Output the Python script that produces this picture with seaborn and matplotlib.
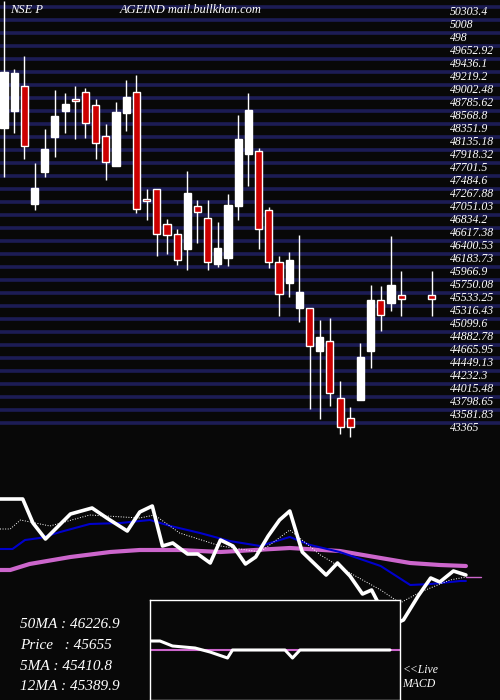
import numpy as np
import matplotlib
matplotlib.use("Agg")
import matplotlib.pyplot as plt
import seaborn as sns

sns.set_style("dark")

# candle data (prices), NaN = no trade day
opens = [48369, 48653, 49070, 47101, 47635, 48219, 48653, 48853, 48969, 48753, 48236, 47735,
         48619, 48969, 47168, 47352, 46768, 46601, 46351, 47068, 46868, 46101, 46201, 47068,
         47935, 47985, 47001, 46134, 45784, 45367, 45367, 44649, 44816, 43865, 43532, 43832,
         44649, 45500, 45450, 45583, np.nan, np.nan, 45583]
closes = [49303, 49286, 48069, 47368, 48019, 48569, 48769, 48819, 48452, 48119, 47802, 48636,
          48886, 47018, 47151, 46601, 46584, 46167, 47285, 46968, 46134, 46367, 47085, 48186,
          48669, 46684, 46134, 45600, 46167, 45633, 44733, 44883, 43949, 43382, 43382, 44549,
          45500, 45250, 45750, 45517, np.nan, np.nan, 45517]
highs = [50480, 49353, 49570, 47785, 48352, 49003, 48953, 49070, 49036, 48853, 48436, 48803,
         49170, 49253, 47352, 47352, 46851, 46684, 47652, 47168, 47168, 46801, 47268, 48586,
         48953, 48035, 47051, 46234, 46301, 46584, 45367, 45166, 45200, 44149, 43715, 44783,
         45750, 45734, 46568, 45984, np.nan, np.nan, 45984]
lows = [47552, 48286, 47852, 47001, 47552, 47885, 48286, 48186, 48202, 47852, 47502, 47735,
        48319, 46951, 46834, 46234, 46267, 46084, 46000, 46451, 46000, 46050, 46067, 46834,
        47402, 46351, 46034, 45233, 45550, 45133, 43682, 43515, 43732, 43265, 43215, 43832,
        44366, 44983, 45317, 45233, np.nan, np.nan, 45233]

price_labels = ["50303.4", "5008", "498", "49652.92", "49436.1", "49219.2", "49002.48",
                "48785.62", "48568.8", "48351.9", "48135.18", "47918.32", "47701.5",
                "47484.6", "47267.88", "47051.03", "46834.2", "46617.38", "46400.53",
                "46183.73", "45966.9", "45750.08", "45533.25", "45316.43", "45099.6",
                "44882.78", "44665.95", "44449.13", "44232.3", "44015.48", "43798.65",
                "43581.83", "43365"]

# lower panel: price and moving averages (index, level)
px_t = [0, 2, 2.9, 4, 6.2, 8.1, 9.4, 11.2, 12.3, 13.4, 14.3, 15.2, 16.5, 17.4, 18.5, 19.4, 20.5,
        21.6, 22.5, 23.6, 24.6, 25.5, 26.6, 28.7, 29.7, 30.8, 31.9, 32.7, 33.7, 34.9, 35.5, 36.8,
        37.9, 38.7, 39.9, 41]
px_v = [201, 201, 177, 161, 186, 192, 182, 169, 188, 194, 154, 157, 146, 146, 137, 160, 154,
        136, 143, 164, 180, 189, 148, 125, 137, 124, 106, 110, 88, 77, 80, 104, 122, 118, 129, 125]
ma12_t = [0, 1.1, 2.2, 3.5, 5.3, 7.9, 10.6, 13.2, 15, 17.6, 20.2, 22.9, 25.5, 27.3, 29.9, 33.5,
          36.1, 37.9, 40.5, 41]
ma12_v = [151, 151, 160, 162, 168, 176, 177, 180, 174, 167, 159, 154, 163, 155, 148, 134, 115,
          116, 119, 119]
ma5_t = [0, 0.9, 1.8, 4.4, 7.9, 12.3, 13.6, 15.8, 19.4, 22.9, 25.5, 28.2, 30.8, 33.5, 35.2, 37,
         39.6, 41]
ma5_v = [171, 171, 180, 174, 185, 182, 185, 167, 154, 148, 170, 145, 127, 110, 97, 108, 120, 123]
ma50_t = [0, 0.9, 2.6, 6.2, 9.7, 12.3, 15.8, 19.4, 25.5, 29.9, 33.5, 36.1, 38.7, 41]
ma50_v = [130, 130, 136, 143, 148, 150, 150, 148, 152, 149, 142, 137, 135, 134]

macd_t = [0, 0.4, 0.9, 1.8, 2.4, 3.1, 3.3, 5.4, 5.7, 6, 9.6]
macd_v = [9, 9, 4, 2, -2, -8, 0, 0, -8, 0, 0]

info = ["50MA : 46226.9", "Price   : 45655", "5MA : 45410.8", "12MA : 45389.9"]

bg = "#080808"
fig = plt.figure(figsize=(5, 7), dpi=100, facecolor=bg)

# ---- candles ----
ax = fig.add_axes([0, 260 / 700, 1, 440 / 700])
ax.set_facecolor(bg)
step = 216.82
for k, lab in enumerate(price_labels):
    p = 50303.4 - k * step
    ax.axhline(p + 0.4 * step, color="#1c1c55", lw=2.6, zorder=1)
    ax.text(43.8, p, lab, color="white", fontsize=8.5, va="center", ha="left",
            family="Liberation Serif", style="italic", zorder=3)
for i in range(len(opens)):
    o, c, h, l = opens[i], closes[i], highs[i], lows[i]
    if np.isnan(o):
        continue
    col = "white" if c >= o else "#cc0000"
    ax.vlines(i, l, h, color="white", lw=1, zorder=2)
    lo, hi = min(o, c), max(o, c)
    ax.bar(i, max(hi - lo, 40), bottom=lo, width=0.7, color=col, edgecolor="white",
           linewidth=1, zorder=3)
ax.set_xlim(-0.39, 48.7)
ax.set_ylim(43165, 50504)
ax.axis("off")
ax.text(0.02, 0.99, "NSE P", transform=ax.transAxes, color="white", fontsize=9,
        family="Liberation Serif", style="italic", va="top")
ax.text(0.24, 0.99, "AGEIND mail.bullkhan.com", transform=ax.transAxes, color="white",
        fontsize=9, family="Liberation Serif", style="italic", va="top")

# ---- moving averages ----
ax2 = fig.add_axes([0, 0, 1, 260 / 700])
ax2.set_facecolor(bg)
sns.lineplot(x=ma50_t, y=ma50_v, ax=ax2, color="#cc66cc", lw=3, estimator=None, sort=False)
ax2.plot([41, 42.3], [123, 123], color="#cc66cc", lw=1)
sns.lineplot(x=ma12_t, y=ma12_v, ax=ax2, color="#0000cc", lw=1.5, estimator=None, sort=False)
sns.lineplot(x=ma5_t, y=ma5_v, ax=ax2, color="white", lw=0.7, ls=":", estimator=None, sort=False)
sns.lineplot(x=px_t, y=px_v, ax=ax2, color="white", lw=2.6, estimator=None, sort=False)
ax2.set_xlim(0, 44)
ax2.set_ylim(0, 260)
ax2.axis("off")
for k, s in enumerate(info):
    ax2.text(0.04, 0.29 - k * 0.08, s, transform=ax2.transAxes, color="white", fontsize=11,
             family="Liberation Serif", style="italic", va="center")
ax2.text(0.805, 0.115, "<<Live", transform=ax2.transAxes, color="white", fontsize=8.5,
         family="Liberation Serif", style="italic", va="center")
ax2.text(0.805, 0.06, "MACD", transform=ax2.transAxes, color="white", fontsize=8.5,
         family="Liberation Serif", style="italic", va="center")

# ---- MACD inset ----
ax3 = fig.add_axes([150 / 500, 0, 250 / 500, 100 / 700])
ax3.set_facecolor(bg)
ax3.plot([0, 10], [0, 0], color="#cc66cc", lw=1.5)
sns.lineplot(x=macd_t, y=macd_v, ax=ax3, color="white", lw=2.2, estimator=None, sort=False)
ax3.set_xlim(0, 10)
ax3.set_ylim(-50, 50)
ax3.set_xticks([])
ax3.set_yticks([])
ax3.set_xlabel("")
ax3.set_ylabel("")
for sp in ax3.spines.values():
    sp.set_visible(True)
    sp.set_color("white")
    sp.set_linewidth(1)

fig.savefig("out.png", dpi=100, facecolor=bg)
